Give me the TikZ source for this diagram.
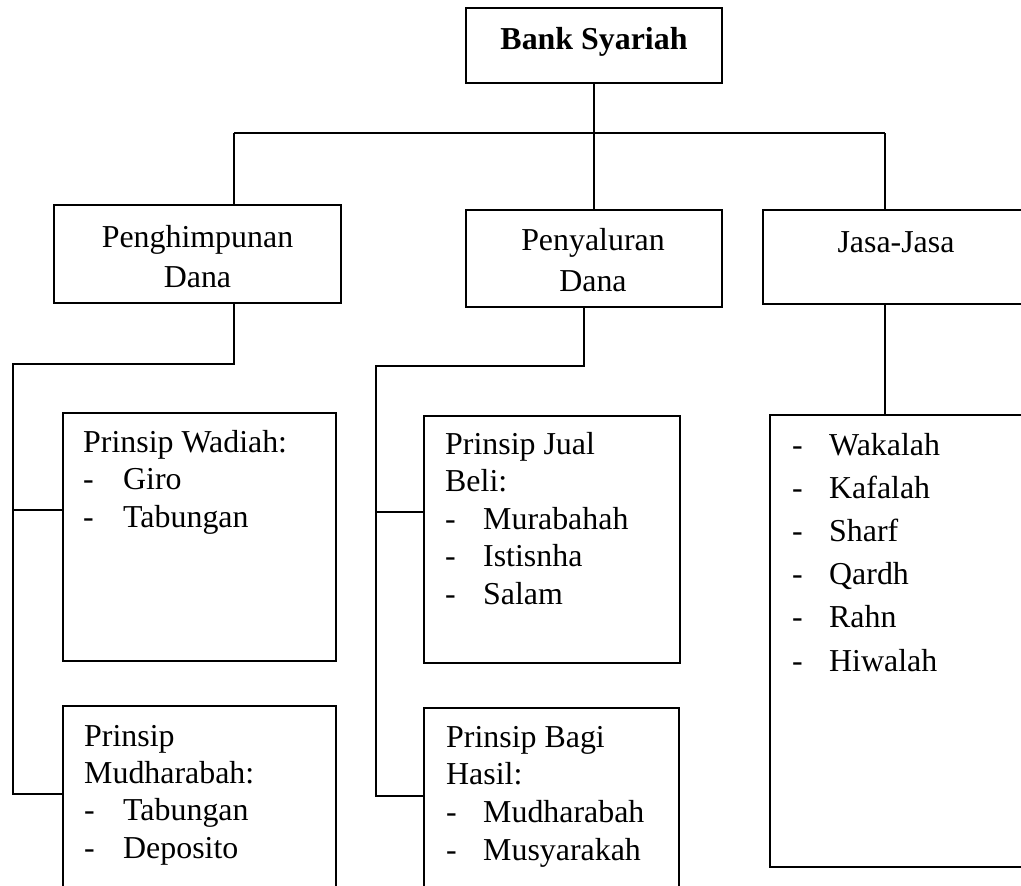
\documentclass[tikz,border=0pt]{standalone}
\usepackage{fontspec}
\setmainfont{Liberation Serif}
\begin{document}
\begin{tikzpicture}[x=1pt,y=-1pt,
  box/.style={draw=black, line width=2.2pt, rectangle, inner sep=0pt, minimum width=#1},
  conn/.style={draw=black, line width=2.2pt},
  txt/.style={inner sep=0pt, anchor=base west, font=\fontsize{31.9}{37.5}\selectfont},
  ctxt/.style={inner sep=0pt, anchor=base, font=\fontsize{31.9}{37.5}\selectfont}]
\useasboundingbox (0,0) rectangle (1021,886);
\fill[white] (0,0) rectangle (1021,886);
\clip (0,0) rectangle (1021,886);

% boxes
\node[box=256pt, minimum height=75pt] (bank) at (594,45.5) {};
\node[box=287pt, minimum height=98pt] (pengh) at (197.5,254) {};
\node[box=256pt, minimum height=97pt] (penya) at (594,258.5) {};
\node[box=266pt, minimum height=94pt] (jasa) at (896,257) {};
\node[box=273pt, minimum height=248pt] (wadiah) at (199.5,537) {};
\node[box=273pt, minimum height=194pt] (mudh) at (199.5,803) {};
\node[box=256pt, minimum height=247pt] (jual) at (552,539.5) {};
\node[box=255pt, minimum height=192pt] (bagi) at (551.5,804) {};
\node[box=260pt, minimum height=452pt] (jlist) at (900,641) {};

% connector coordinates
\coordinate (hl) at (234,133);
\coordinate (hr) at (885,133);
\coordinate (lb) at (13,364);
\coordinate (lw) at (13,510);
\coordinate (lbot) at (13,794);
\coordinate (pd) at (584,366);
\coordinate (mb) at (376,366);
\coordinate (mj) at (376,512);
\coordinate (mbot) at (376,796);

% connectors
\draw[conn] (bank.south) -- (penya.north);
\draw[conn] (hl) -- (hr);
\draw[conn] (hl) -- (hl |- pengh.north);
\draw[conn] (hr) -- (hr |- jasa.north);
\draw[conn] (hl |- pengh.south) |- (lb) -- (lbot) -- (lbot -| mudh.west);
\draw[conn] (lw) -- (lw -| wadiah.west);
\draw[conn] (pd |- penya.south) -- (pd) -- (mb) -- (mbot) -- (mbot -| bagi.west);
\draw[conn] (mj) -- (mj -| jual.west);
\draw[conn] (hr |- jasa.south) -- (hr |- jlist.north);

% texts
\node[ctxt, font=\fontsize{31.9}{37.5}\selectfont\bfseries] (tbank) at (594,49) {Bank Syariah};
\node[ctxt] (tp1) at (197.5,247) {Penghimpunan};
\node[ctxt] (tp2) at (197.5,287) {Dana};
\node[ctxt] (ts1) at (593,250) {Penyaluran};
\node[ctxt] (ts2) at (593,291) {Dana};
\node[ctxt] (tj) at (896,252) {Jasa-Jasa};

\node[txt] (w0) at (83,452) {Prinsip Wadiah:};
\node[txt] (wd1) at (83,489.5) {-};
\node[txt] (w1) at (123,489.5) {Giro};
\node[txt] (wd2) at (83,527) {-};
\node[txt] (w2) at (123,527) {Tabungan};

\node[txt] (m0) at (84,746) {Prinsip};
\node[txt] (m1) at (84,783) {Mudharabah:};
\node[txt] (md2) at (84,820) {-};
\node[txt] (m2) at (123,820) {Tabungan};
\node[txt] (md3) at (84,858) {-};
\node[txt] (m3) at (123,858) {Deposito};

\node[txt] (j0) at (445,454) {Prinsip Jual};
\node[txt] (j1) at (445,491.5) {Beli:};
\node[txt] (jd2) at (445,529) {-};
\node[txt] (j2) at (483,529) {Murabahah};
\node[txt] (jd3) at (445,566.5) {-};
\node[txt] (j3) at (483,566.5) {Istisnha};
\node[txt] (jd4) at (445,604) {-};
\node[txt] (j4) at (483,604) {Salam};

\node[txt] (b0) at (446,747) {Prinsip Bagi};
\node[txt] (b1) at (446,784) {Hasil:};
\node[txt] (bd2) at (446,822) {-};
\node[txt] (b2) at (483,822) {Mudharabah};
\node[txt] (bd3) at (446,860) {-};
\node[txt] (b3) at (483,860) {Musyarakah};

\foreach \w [count=\i from 0] in {Wakalah,Kafalah,Sharf,Qardh,Rahn,Hiwalah} {
  \node[txt] (sd\i) at (792,455+43.2*\i) {-};
  \node[txt] (s\i) at (829,455+43.2*\i) {\w};
}
\end{tikzpicture}
\end{document}
